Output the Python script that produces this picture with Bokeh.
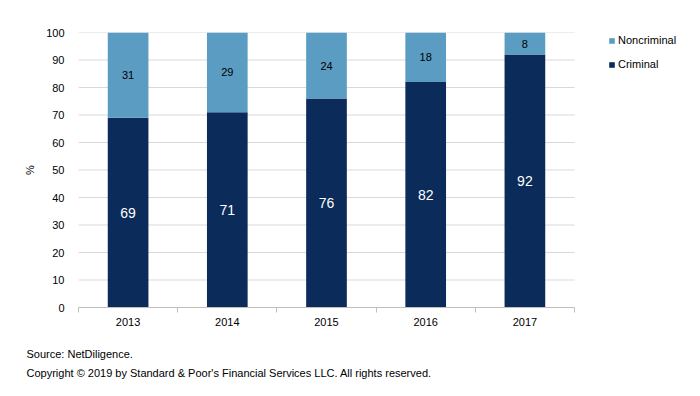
from bokeh.plotting import figure
from bokeh.models import (ColumnDataSource, FixedTicker, Legend, LegendItem,
                          Title, Range1d)
from bokeh.core.properties import value
from bokeh.embed import file_html
from bokeh.resources import INLINE

years = ["2013", "2014", "2015", "2016", "2017"]
criminal = [69, 71, 76, 82, 92]
noncriminal = [31, 29, 24, 18, 8]
y_ticks = [0, 10, 20, 30, 40, 50, 60, 70, 80, 90, 100]

FONT = "Liberation Sans"
C_CRIM = "#0B2B5A"
C_NON = "#5B9CC3"
GRID = "#D9D9D9"

n = len(years)
xs = [i + 0.5 for i in range(n)]
tops = [c + m for c, m in zip(criminal, noncriminal)]
src = ColumnDataSource(dict(
    x=xs, crim=criminal, non=noncriminal, top=tops,
    crim_mid=[c / 2 for c in criminal],
    non_mid=[c + m / 2 for c, m in zip(criminal, noncriminal)],
    crim_lbl=[str(v) for v in criminal],
    non_lbl=[str(v) for v in noncriminal],
))

W, H = 700, 396
LEFT, TOP, BOTTOM = 78, 32, 89
PLOT_W = 496  # pixel width of the category area
x_end = n * (W - LEFT) / PLOT_W  # frame extends right to host the legend

p = figure(width=W, height=H, output_backend="svg", toolbar_location=None,
           x_range=Range1d(0, x_end), y_range=Range1d(0, 100),
           min_border_left=LEFT, min_border_right=0, min_border_top=TOP,
           min_border_bottom=BOTTOM)
p.outline_line_color = None
p.background_fill_color = "white"

# horizontal gridlines limited to the category area
gy = y_ticks[1:]
p.segment(x0=[0] * len(gy), x1=[n] * len(gy), y0=gy, y1=gy,
          line_color=GRID, line_width=1)

r_crim = p.vbar(x="x", bottom=0, top="crim", width=0.41, source=src,
                fill_color=C_CRIM, line_color=None)
r_non = p.vbar(x="x", bottom="crim", top="top", width=0.41, source=src,
               fill_color=C_NON, line_color=None)

p.text(x="x", y="crim_mid", text="crim_lbl", source=src,
       text_color="white", text_font=value(FONT), text_font_size="14px",
       text_align="center", text_baseline="middle")
p.text(x="x", y="non_mid", text="non_lbl", source=src,
       text_color="black", text_font=value(FONT), text_font_size="11px",
       text_align="center", text_baseline="middle")

# x axis
p.xaxis.ticker = FixedTicker(ticks=xs, minor_ticks=list(range(n + 1)))
p.xaxis.major_label_overrides = {x: y for x, y in zip(xs, years)}
p.xaxis.bounds = (0, n)
p.xaxis.major_tick_line_color = None
p.xaxis.minor_tick_line_color = "#BFBFBF"
p.xaxis.minor_tick_in = 0
p.xaxis.minor_tick_out = 5
p.xaxis.axis_line_color = "#BFBFBF"
p.xaxis.major_label_text_font = FONT
p.xaxis.major_label_text_font_size = "11px"
p.xaxis.major_label_text_color = "black"
p.xaxis.major_label_standoff = 4
p.xgrid.grid_line_color = None
p.ygrid.grid_line_color = None

# y axis
p.yaxis.ticker = FixedTicker(ticks=y_ticks)
p.yaxis.axis_line_color = None
p.yaxis.major_tick_line_color = None
p.yaxis.minor_tick_line_color = None
p.yaxis.major_label_text_font = FONT
p.yaxis.major_label_text_font_size = "11px"
p.yaxis.major_label_text_color = "black"
p.yaxis.major_label_standoff = 8
p.yaxis.axis_label = "%"
p.yaxis.axis_label_text_font = FONT
p.yaxis.axis_label_text_font_size = "11px"
p.yaxis.axis_label_text_font_style = "normal"
p.yaxis.axis_label_text_color = "black"
p.yaxis.axis_label_standoff = 7

legend = Legend(items=[LegendItem(label="Noncriminal", renderers=[r_non]),
                       LegendItem(label="Criminal", renderers=[r_crim])],
                location=(530, 235), orientation="vertical")
legend.border_line_color = None
legend.background_fill_alpha = 0
legend.padding = 0
legend.margin = 0
legend.spacing = 8
legend.label_height = 16
legend.glyph_height = 7
legend.glyph_width = 7
legend.label_standoff = 3
legend.label_text_font = FONT
legend.label_text_font_size = "11px"
legend.label_text_color = "black"
p.add_layout(legend, "center")

footer = ["Source: NetDiligence.",
          "Copyright \u00a9 2019 by Standard & Poor's Financial Services LLC. All rights reserved."]
# padding order is (left, right, top, bottom)
for txt, so, pad in zip(footer, [9, 0], [(0, 0, 13, 0), (0, 0, 0, 0)]):
    p.add_layout(Title(text=txt, align="left", offset=-52, text_font=FONT,
                       text_font_size="11px", text_font_style="normal",
                       text_color="black", standoff=so, padding=pad), "below")

open("out.html", "w").write(file_html(p, INLINE))
